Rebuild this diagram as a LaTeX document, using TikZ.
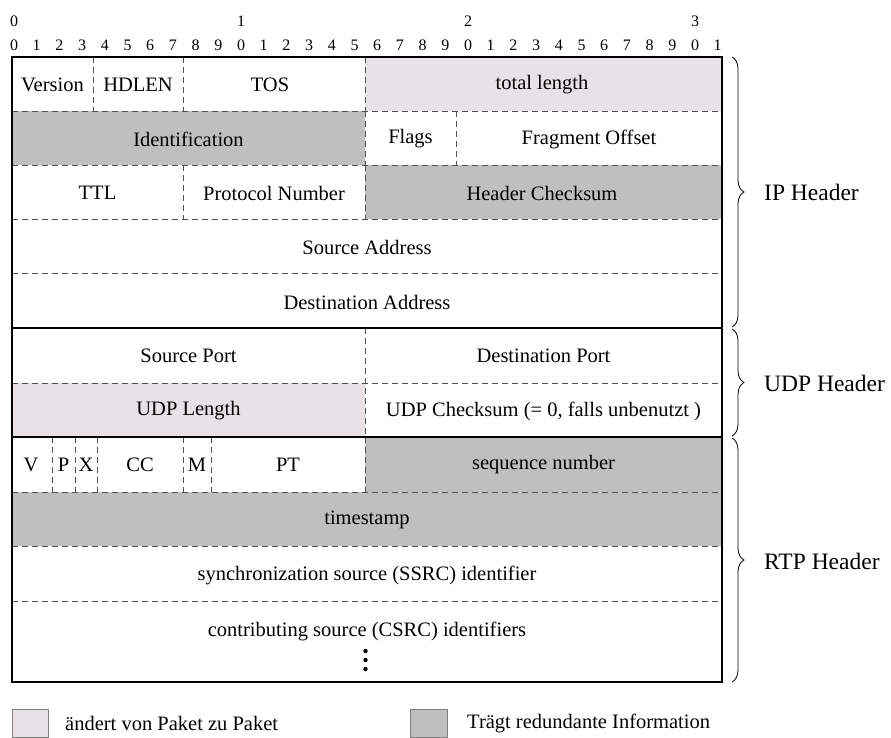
\documentclass[tikz,border=0pt]{standalone}
\usepackage{fontspec}
\setmainfont{Liberation Serif}
\usetikzlibrary{decorations.pathreplacing}

\definecolor{changes}{RGB}{230,226,230}
\definecolor{redund}{RGB}{191,191,191}
\definecolor{dashgray}{RGB}{80,80,80}

\tikzset{
  cell/.style={inner sep=0pt, font=\fontsize{20.5}{24}\selectfont},
  bitnum/.style={inner sep=0pt, font=\fontsize{16}{19}\selectfont},
  hdrlabel/.style={inner sep=0pt, anchor=west, font=\fontsize{23.5}{28}\selectfont},
  sepdash/.style={draw=dashgray, line width=0.9pt, dash pattern=on 6pt off 4pt},
  sepsolid/.style={draw=black, line width=1.1pt},
  hbrace/.style={draw=black, line width=0.8pt, decorate, decoration={brace, amplitude=12pt}},
  legendbox/.style={draw=gray, line width=0.9pt}
}

\begin{document}
\begin{tikzpicture}[x=1pt, y=-1pt]
\useasboundingbox (0,0) rectangle (891,738);

% bit numbering
\foreach \k/\d in {0/0,10/1,20/2,30/3}
  \node[bitnum] (tens\k) at ({14+22.7*\k},21) {\d};
\foreach \k in {0,...,31}{
  \pgfmathtruncatemacro{\u}{mod(\k,10)}
  \node[bitnum] (ones\k) at ({14+22.7*\k},45) {\u};
}

% shaded fields
\fill[changes] (365,57) rectangle (722,111);
\fill[redund]  (12,111) rectangle (365,165);
\fill[redund]  (365,165) rectangle (722,219);
\fill[changes] (12,383) rectangle (365,437);
\fill[redund]  (365,437) rectangle (722,492);
\fill[redund]  (12,492) rectangle (722,546);

% dashed row separators
\foreach \y in {111,165,219,273,383,492,546,601}
  \draw[sepdash] (12,\y) -- (722,\y);

% dashed field separators
\foreach \x in {93,183,365} \draw[sepdash] (\x,57) -- (\x,111);
\foreach \x in {365,456} \draw[sepdash] (\x,111) -- (\x,165);
\foreach \x in {183,365} \draw[sepdash] (\x,165) -- (\x,219);
\draw[sepdash] (365,328) -- (365,437);
\foreach \x in {52,75,97,183,211,365} \draw[sepdash] (\x,437) -- (\x,492);

% header boundaries and frame
\draw[sepsolid] (12,328) -- (722,328);
\draw[sepsolid] (12,437) -- (722,437);
\draw[sepsolid] (12,57) rectangle (722,682);

% IP header
\node[cell] (version) at (52.5,85) {Version};
\node[cell] (hdlen) at (138,85) {HDLEN};
\node[cell] (tos) at (270,85) {TOS};
\node[cell] (totlen) at (542,85) {total length};
\node[cell] (ident) at (188.5,139) {Identification};
\node[cell] (flags) at (410.5,139) {Flags};
\node[cell] (fragoff) at (589,139) {Fragment Offset};
\node[cell] (ttl) at (97.5,193) {TTL};
\node[cell] (proto) at (274,193) {Protocol Number};
\node[cell] (hcsum) at (542,193) {Header Checksum};
\node[cell] (srcaddr) at (367,247) {Source Address};
\node[cell] (dstaddr) at (367,302) {Destination Address};

% UDP header
\node[cell] (srcport) at (188.5,356) {Source Port};
\node[cell] (dstport) at (543.5,356) {Destination Port};
\node[cell] (udplen) at (188.5,411) {UDP Length};
\node[cell] (udpcsum) at (543.5,411) {UDP Checksum (= 0, falls unbenutzt )};

% RTP header
\node[cell] (rtpv) at (31,465) {V};
\node[cell] (rtpp) at (63.5,465) {P};
\node[cell] (rtpx) at (86,465) {X};
\node[cell] (rtpcc) at (140,465) {CC};
\node[cell] (rtpm) at (197,465) {M};
\node[cell] (rtppt) at (288,465) {PT};
\node[cell] (seqnum) at (543.5,465) {sequence number};
\node[cell] (tstamp) at (367,520) {timestamp};
\node[cell] (ssrc) at (367,575) {synchronization source (SSRC) identifier};
\node[cell] (csrc) at (367,631) {contributing source (CSRC) identifiers};
\foreach \y in {651,660,669}
  \fill (365.5,\y) circle (2.2pt);

% braces grouping the headers
\coordinate (ipTop) at (732,57);
\coordinate (ipBot) at (732,327);
\coordinate (udpTop) at (732,329);
\coordinate (udpBot) at (732,436);
\coordinate (rtpTop) at (732,438);
\coordinate (rtpBot) at (732,682);
\draw[hbrace] (ipTop) -- (ipBot);
\draw[hbrace] (udpTop) -- (udpBot);
\draw[hbrace] (rtpTop) -- (rtpBot);
\node[hdrlabel] (iplabel) at (764,192) {IP Header};
\node[hdrlabel] (udplabel) at (764,383) {UDP Header};
\node[hdrlabel] (rtplabel) at (764,561) {RTP Header};

% legend
\draw[legendbox, fill=changes] (12,709) rectangle (48,737);
\node[cell, anchor=west] (legchange) at (65,723) {ändert von Paket zu Paket};
\draw[legendbox, fill=redund] (410,709) rectangle (447,737);
\node[cell, anchor=west] (legredund) at (467,723) {Trägt redundante Information};
\end{tikzpicture}
\end{document}
